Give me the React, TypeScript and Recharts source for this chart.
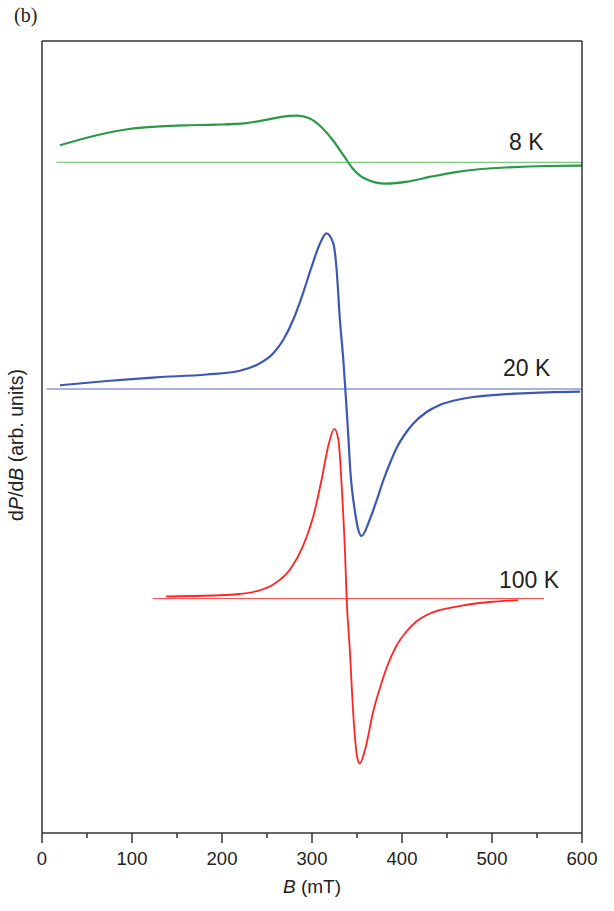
import React from "react";
import { LineChart, Line, XAxis, YAxis, Label } from "recharts";

// field axis, mT
const ticksB = [0, 50, 100, 150, 200, 250, 300, 350, 400, 450, 500, 550, 600];

// 8 K trace (signal relative to its baseline, arb. units)
const b8 = [20, 62, 97, 127, 158, 193, 227, 249, 266, 284, 297, 310, 323, 336, 345, 358, 382, 406, 432, 458, 488, 519, 562, 600];
const s8 = [0.17, 0.273, 0.333, 0.356, 0.37, 0.376, 0.392, 0.425, 0.455, 0.466, 0.44, 0.356, 0.223, 0.056, -0.06, -0.16, -0.214, -0.194, -0.144, -0.1, -0.067, -0.05, -0.037, -0.034];

// 20 K trace
const b20 = [20, 72, 127, 183, 220, 238.5, 257, 268, 279, 290, 299.6, 309, 316, 323.7, 327.4, 331, 334.8, 337, 340.4, 342, 348, 351.5, 355, 364, 372, 379, 386.7, 394, 405, 412.6, 427.4, 442, 460.7, 479, 505, 534, 598];
const s20 = [0.037, 0.08, 0.117, 0.145, 0.183, 0.24, 0.357, 0.49, 0.69, 0.957, 1.223, 1.457, 1.557, 1.457, 1.19, 0.69, 0.29, 0, -0.477, -0.74, -1.24, -1.41, -1.47, -1.31, -1.11, -0.92, -0.74, -0.59, -0.43, -0.345, -0.23, -0.16, -0.11, -0.08, -0.058, -0.043, -0.027];

// 100 K trace
const b100 = [138, 190, 220, 238.5, 257, 275.6, 290, 301.5, 310.7, 318, 324.8, 329.3, 333, 336.7, 338.5, 342, 346, 350, 353, 359, 368, 376, 383, 394, 405, 416, 431, 449.6, 468, 498, 529];
const s100 = [0.02, 0.03, 0.045, 0.073, 0.14, 0.29, 0.523, 0.823, 1.19, 1.523, 1.697, 1.59, 1.123, 0.457, 0, -0.51, -1.177, -1.577, -1.65, -1.51, -1.13, -0.88, -0.69, -0.47, -0.33, -0.23, -0.15, -0.1, -0.068, -0.035, -0.017];

// vertical offsets of each trace and the extent of its zero line
const offsets = { k8: 6.707, k20: 4.44, k100: 2.345 };
const zero8 = [16, 600];
const zero20 = [5, 600];
const zero100 = [123, 558];

const build = (bs: number[], sig: number[], base: number) =>
  bs.map((B, i) => ({ B, v: base + sig[i] }));
const flat = (range: number[], base: number) => range.map((B) => ({ B, v: base }));

const FONT = "'Liberation Sans', Arial, Helvetica, sans-serif";
const AXIS = "#333";

const BottomTick = (props: any) => {
  const { x, y, payload } = props;
  const major = payload.value % 100 === 0;
  return (
    <g>
      <line x1={x} x2={x} y1={y} y2={y + (major ? 10 : 5)} stroke={AXIS} strokeWidth={1.5} />
      {major && (
        <text x={x} y={y + 32} textAnchor="middle" fontFamily={FONT} fontSize={18.5} fill="#222">
          {payload.value}
        </text>
      )}
    </g>
  );
};

const TopTick = (props: any) => {
  const { x, y, payload } = props;
  const major = payload.value % 100 === 0;
  if (payload.value === 0 || payload.value === 600) return <g />;
  return <line x1={x} x2={x} y1={y} y2={y + (major ? 10 : 5)} stroke={AXIS} strokeWidth={1.5} />;
};

export default function App() {
  return (
    <div style={{ position: "absolute", left: 0, top: 0, width: 614, height: 911, background: "#fff" }}>
      <LineChart width={614} height={911} margin={{ top: 40, right: 31, bottom: 28, left: 41 }}>
        <XAxis
          dataKey="B"
          type="number"
          domain={[0, 600]}
          ticks={ticksB}
          interval={0}
          height={50}
          tickSize={0}
          tickMargin={0}
          tickLine={false}
          axisLine={{ stroke: AXIS, strokeWidth: 1.5 }}
          tick={<BottomTick />}
        >
          <Label
            content={() => (
              <text x={312} y={893} textAnchor="middle" fontFamily={FONT} fontSize={19} fill="#222">
                <tspan fontStyle="italic">B</tspan>
                <tspan> (mT)</tspan>
              </text>
            )}
          />
        </XAxis>
        <XAxis
          xAxisId="top"
          orientation="top"
          dataKey="B"
          type="number"
          domain={[0, 600]}
          ticks={ticksB}
          interval={0}
          height={1}
          tickSize={0}
          tickMargin={0}
          tickLine={false}
          axisLine={{ stroke: AXIS, strokeWidth: 1.5 }}
          tick={<TopTick />}
        />
        <YAxis
          type="number"
          domain={[0, 7.92]}
          width={1}
          tick={false}
          tickLine={false}
          axisLine={{ stroke: AXIS, strokeWidth: 1.5 }}
        />
        <YAxis
          yAxisId="r"
          orientation="right"
          type="number"
          domain={[0, 7.92]}
          width={1}
          tick={false}
          tickLine={false}
          axisLine={{ stroke: AXIS, strokeWidth: 1.5 }}
        />

        <Line data={flat(zero8, offsets.k8)} dataKey="v" stroke="#5cbf60" strokeWidth={1} dot={false} isAnimationActive={false} />
        <Line data={flat(zero20, offsets.k20)} dataKey="v" stroke="#5468c2" strokeWidth={1} dot={false} isAnimationActive={false} />
        <Line data={flat(zero100, offsets.k100)} dataKey="v" stroke="#ff5252" strokeWidth={1} dot={false} isAnimationActive={false} />

        <Line data={build(b8, s8, offsets.k8)} type="monotone" dataKey="v" stroke="#2a9a48" strokeWidth={2.2} dot={false} isAnimationActive={false} />
        <Line data={build(b20, s20, offsets.k20)} type="monotone" dataKey="v" stroke="#3d58b4" strokeWidth={2.2} dot={false} isAnimationActive={false} />
        <Line data={build(b100, s100, offsets.k100)} type="monotone" dataKey="v" stroke="#ff2424" strokeWidth={1.8} dot={false} isAnimationActive={false} />
      </LineChart>

      <svg width={614} height={911} style={{ position: "absolute", left: 0, top: 0, pointerEvents: "none" }}>
        <text x={14} y={22} fontFamily="'Liberation Serif', 'Times New Roman', serif" fontSize={20} fill="#222">
          (b)
        </text>
        <text x={509} y={150} fontFamily={FONT} fontSize={23} fill="#222">8 K</text>
        <text x={503} y={376} fontFamily={FONT} fontSize={23} fill="#222">20 K</text>
        <text x={499} y={588} fontFamily={FONT} fontSize={23} fill="#222">100 K</text>
        <text
          transform="translate(23, 445) rotate(-90)"
          textAnchor="middle"
          fontFamily={FONT}
          fontSize={19.5}
          fill="#222"
        >
          <tspan>d</tspan>
          <tspan fontStyle="italic">P</tspan>
          <tspan>/d</tspan>
          <tspan fontStyle="italic">B</tspan>
          <tspan> (arb. units)</tspan>
        </text>
      </svg>
    </div>
  );
}
